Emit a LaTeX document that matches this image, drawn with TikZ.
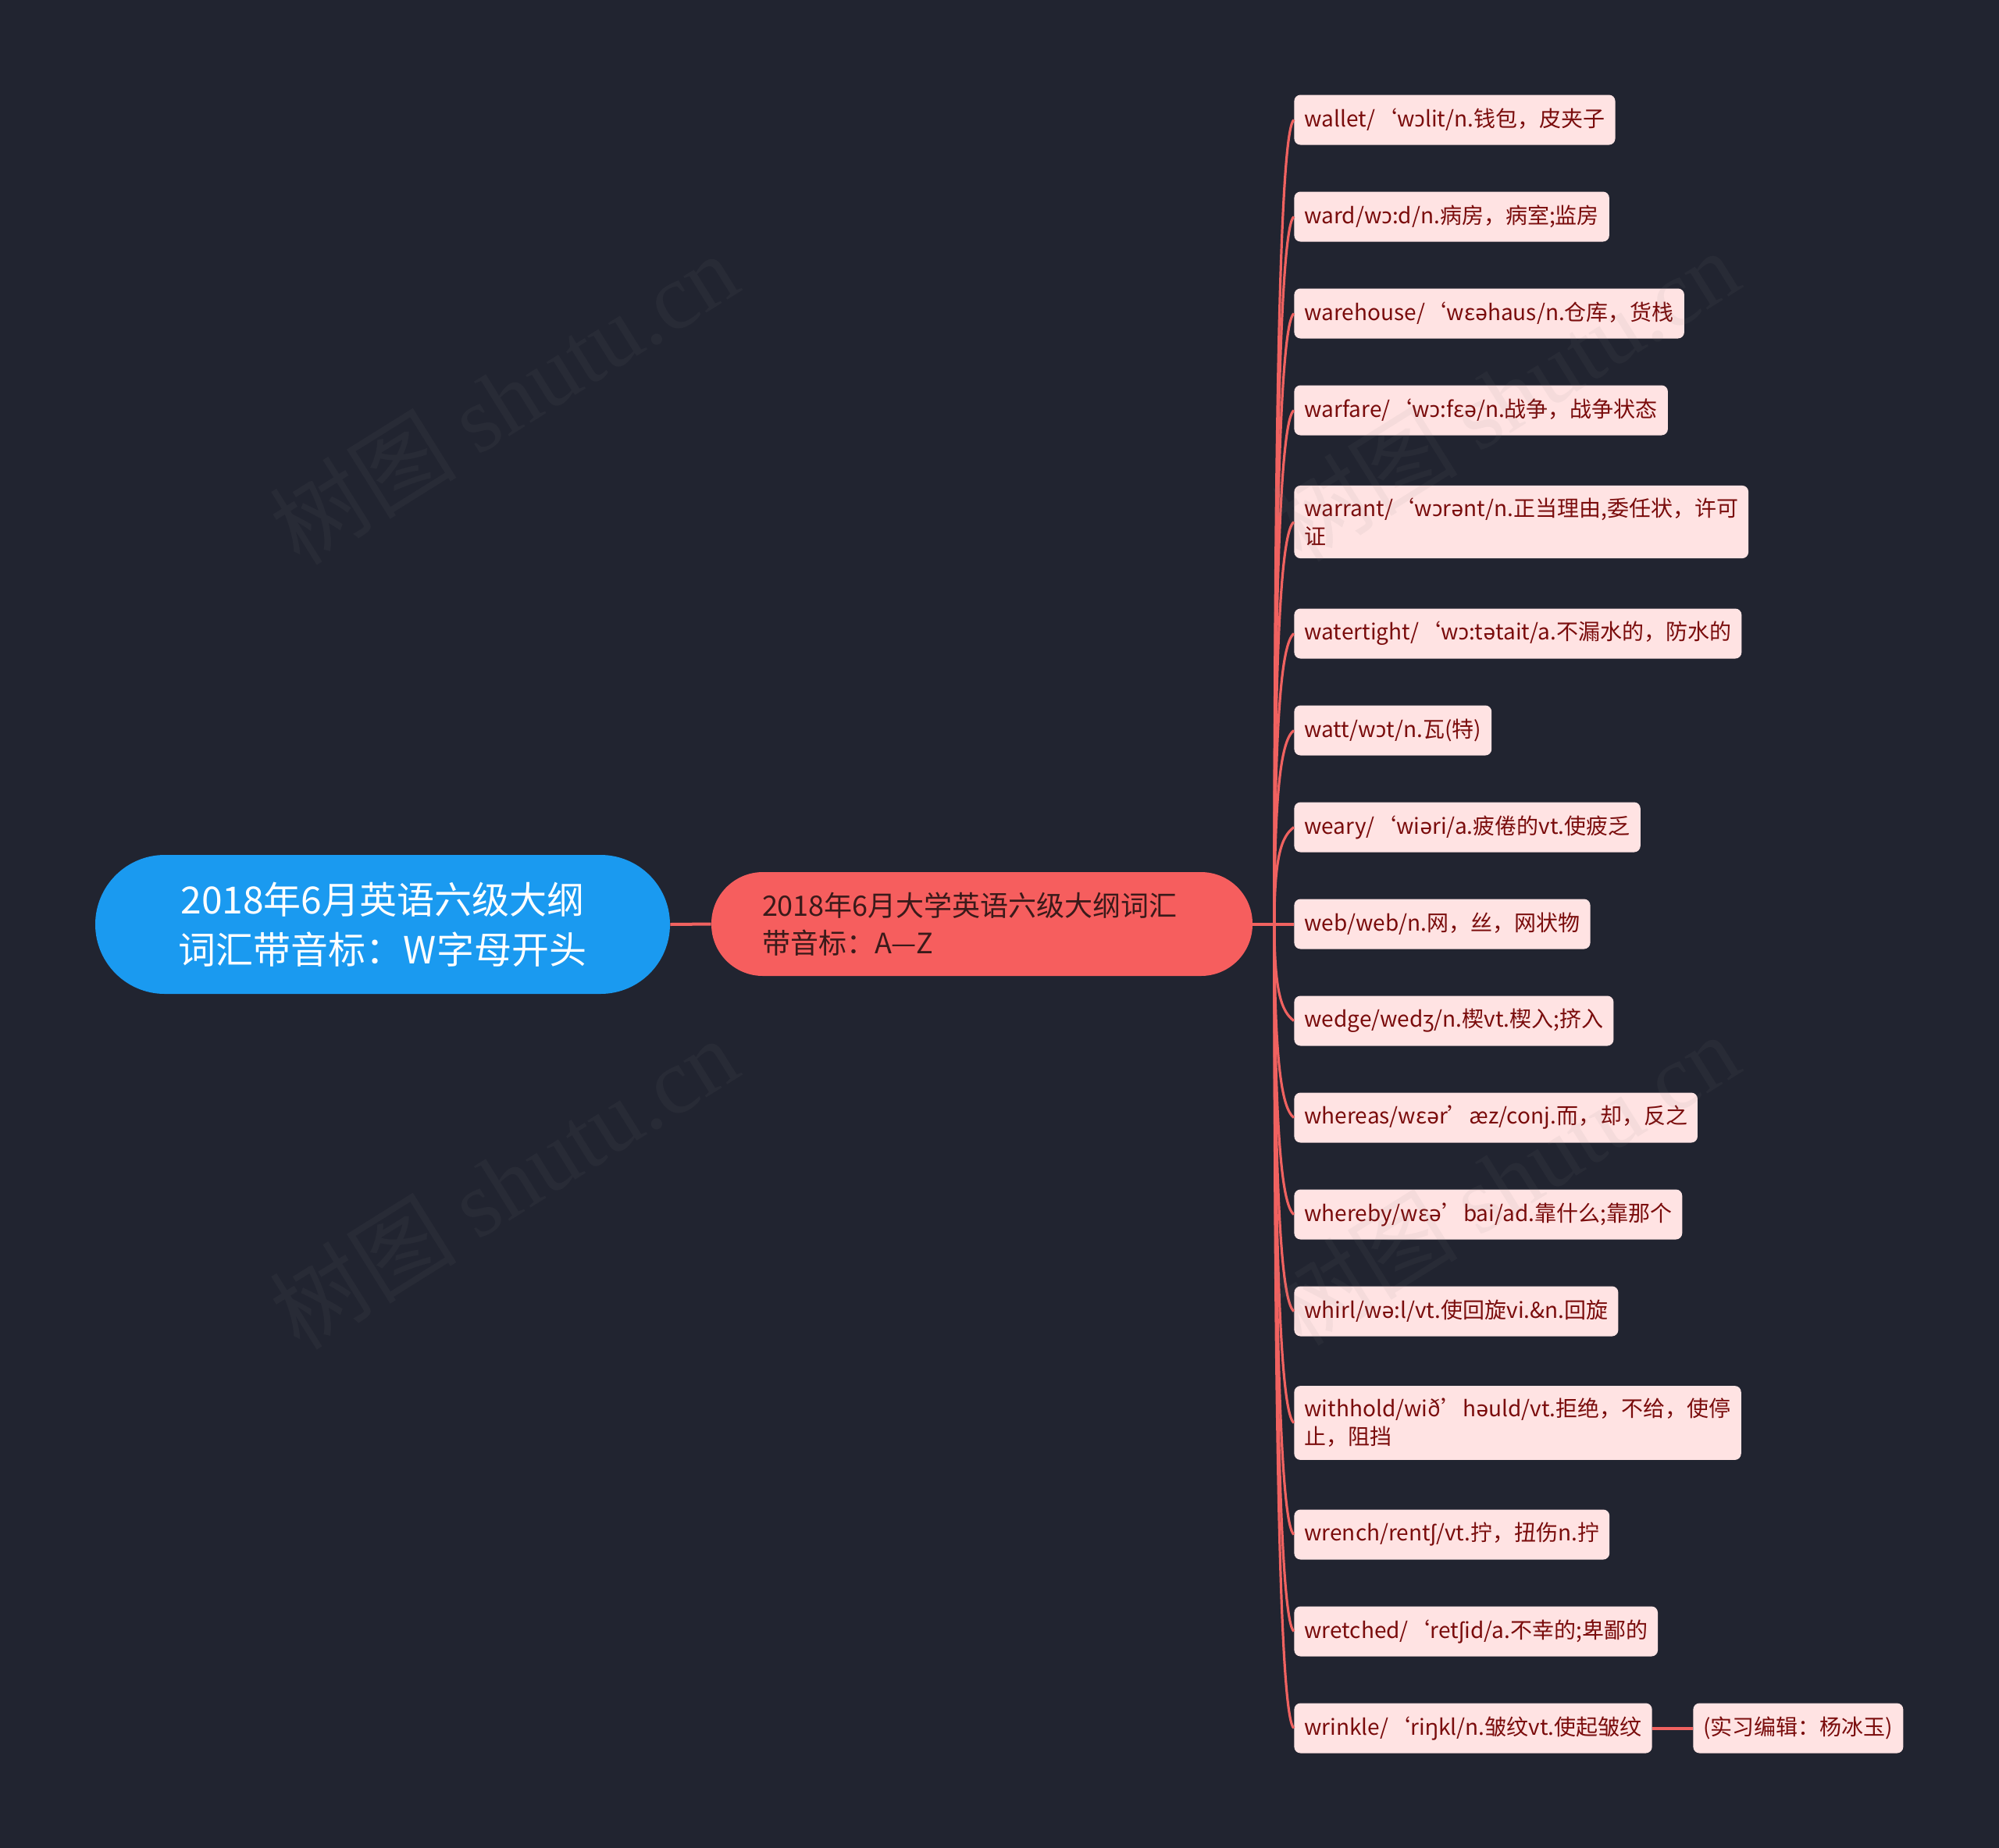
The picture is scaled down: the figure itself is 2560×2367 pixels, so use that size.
\documentclass[tikz,border=0pt]{standalone}
\usepackage{fontspec}
\setmainfont{Noto Sans CJK SC}
\newfontfamily\wmserif{Liberation Serif}
\newfontfamily\ipafont{Noto Sans}
\newcommand{\ip}[1]{{\ipafont #1}}
\usetikzlibrary{calc}
\definecolor{bgc}{RGB}{33,36,48}
\definecolor{rootblue}{RGB}{26,154,240}
\definecolor{subred}{RGB}{246,94,94}
\definecolor{leafpink}{RGB}{255,227,227}
\definecolor{leaftext}{RGB}{122,12,12}
\definecolor{subtext}{RGB}{58,26,26}
\definecolor{linkred}{RGB}{240,98,96}
\tikzset{
 rootnode/.style={rectangle, rounded corners=44.5pt, fill=rootblue, text=white, minimum width=368pt, minimum height=89pt, inner sep=0pt, align=center, font=\fontsize{24}{32}\selectfont},
 subnode/.style={rectangle, rounded corners=33pt, fill=subred, text=subtext, minimum height=66.5pt, inner xsep=32.5pt, inner ysep=0pt, text width=281.5pt, align=left, font=\fontsize{18}{24}\selectfont},
 leaf/.style={rectangle, rounded corners=4pt, fill=leafpink, text=leaftext, anchor=west, inner xsep=6.5pt, inner ysep=8pt, minimum height=32pt, align=left, font=\fontsize{14}{18}\selectfont},
 conn/.style={draw=linkred, line width=1.6pt},
 thickconn/.style={draw=linkred, line width=2pt},
 wm/.style={rotate=32, text=gray, opacity=0.08, font=\fontsize{60}{60}\selectfont}
}
\begin{document}
\begin{tikzpicture}[x=0.5pt,y=-0.5pt]
\fill[bgc] (0,0) rectangle (2560,2367);
\useasboundingbox (0,0) rectangle (2560,2367);

\node[rootnode] (root) at (490,1184) {2018年6月英语六级大纲\\词汇带音标：W字母开头};
\node[subnode] (sub) at (1257.5,1183.5) {2018年6月大学英语六级大纲词汇\\带音标：A—Z};
\coordinate (hub) at (1632,1183.5);

\node[leaf] (l1) at (1657,153.5) {wallet/‘w\ip{ɔ}lit/n.钱包，皮夹子};
\node[leaf] (l2) at (1657,277.5) {ward/w\ip{ɔ}:d/n.病房，病室;监房};
\node[leaf] (l3) at (1657,401.5) {warehouse/‘wε\ip{ə}haus/n.仓库，货栈};
\node[leaf] (l4) at (1657,525.5) {warfare/‘w\ip{ɔ}:fε\ip{ə}/n.战争，战争状态};
\node[leaf] (l5) at (1657,668.5) {warrant/‘w\ip{ɔ}r\ip{ə}nt/n.正当理由,委任状，许可\\证};
\node[leaf] (l6) at (1657,811.5) {watertight/‘w\ip{ɔ}:t\ip{ə}tait/a.不漏水的，防水的};
\node[leaf] (l7) at (1657,935.5) {watt/w\ip{ɔ}t/n.瓦(特)};
\node[leaf] (l8) at (1657,1059.5) {weary/‘wi\ip{ə}ri/a.疲倦的vt.使疲乏};
\node[leaf] (l9) at (1657,1183.5) {web/web/n.网，丝，网状物};
\node[leaf] (l10) at (1657,1307.5) {wedge/wed\ip{ʒ}/n.楔vt.楔入;挤入};
\node[leaf] (l11) at (1657,1431.5) {whereas/wε\ip{ə}r’æz/conj.而，却，反之};
\node[leaf] (l12) at (1657,1555.5) {whereby/wε\ip{ə}’bai/ad.靠什么;靠那个};
\node[leaf] (l13) at (1657,1679.5) {whirl/w\ip{ə}:l/vt.使回旋vi.\&n.回旋};
\node[leaf] (l14) at (1657,1822.5) {withhold/wið’h\ip{ə}uld/vt.拒绝，不给，使停\\止，阻挡};
\node[leaf] (l15) at (1657,1965.5) {wrench/rent\ip{ʃ}/vt.拧，扭伤n.拧};
\node[leaf] (l16) at (1657,2089.5) {wretched/‘ret\ip{ʃ}id/a.不幸的;卑鄙的};
\node[leaf] (l17) at (1657,2213.5) {wrinkle/‘ri\ip{ŋ}kl/n.皱纹vt.使起皱纹};
\node[leaf] (ed) at (2168,2213.5) {(实习编辑：杨冰玉)};

\draw[thickconn] (root.east) -- (sub.west);
\draw[thickconn] (sub.east) -- (l9.west);
\draw[thickconn] (l17.east) -- (ed.west);

\foreach \n/\y in {l1/153.5,l2/277.5,l3/401.5,l4/525.5,l5/668.5,l6/811.5,l7/935.5,l8/1059.5,l10/1307.5,l11/1431.5,l12/1555.5,l13/1679.5,l14/1822.5,l15/1965.5,l16/2089.5,l17/2213.5}{
  \pgfmathsetmacro\ca{\y+0.3*(1183.5-\y)}
  \pgfmathsetmacro\cb{\y+12*sign(1183.5-\y)}
  \draw[conn] (hub) .. controls (1632,\ca) and (1641,\cb) .. (\n.west);
}

\node[wm] (w1) at (645,510) {树图 {\wmserif shutu.cn}};
\node[wm] (w2) at (645,1515) {树图 {\wmserif shutu.cn}};
\node[wm] (w3) at (1927,506) {树图 {\wmserif shutu.cn}};
\node[wm] (w4) at (1927,1510) {树图 {\wmserif shutu.cn}};
\end{tikzpicture}
\end{document}
